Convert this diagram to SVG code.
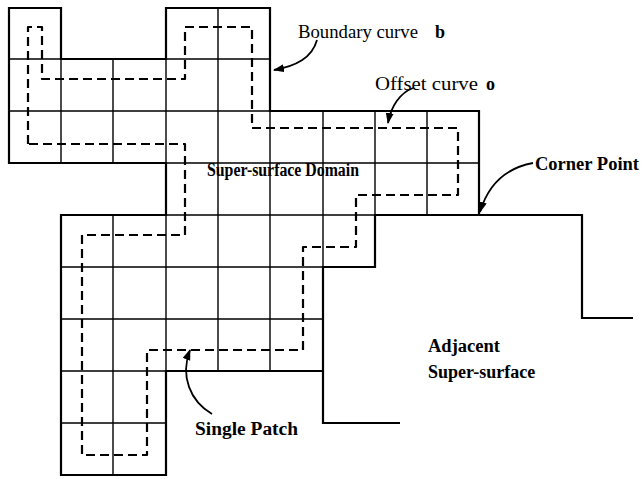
<svg xmlns="http://www.w3.org/2000/svg" width="642" height="479" viewBox="0 0 642 479">
<style>
.cell{fill:none;stroke:#000;stroke-width:1.4}
.outline{fill:none;stroke:#000;stroke-width:2.2;stroke-linejoin:miter}
.offset{fill:none;stroke:#000;stroke-width:2.2;stroke-dasharray:9 5;stroke-linejoin:round}
.lead{fill:none;stroke:#000;stroke-width:1.8}
.lbl{font-family:"Liberation Serif","Times New Roman",serif;font-size:18px;font-weight:bold;fill:#000}
.reg{font-family:"Liberation Serif","Times New Roman",serif;font-size:18px;fill:#000}
</style>
<defs>
<marker id="ah" markerUnits="userSpaceOnUse" markerWidth="12" markerHeight="10" refX="10" refY="4" orient="auto">
<path d="M0,0 L11,4 L0,8 Z" fill="#000"/>
</marker>
</defs>
<rect width="642" height="479" fill="#fff"/>
<g id="domain">
<g id="grid">
<path class="cell" d="M9,59 H270 M9,111 H479 M166,163 H479 M61,215 H375 M61,267 H375 M61,319 H323 M61,371 H166 M61,423 H166
M61,8 V163 M113,59 V163 M166,8 V475 M218,8 V371 M270,111 V371 M323,111 V267 M375,111 V215 M427,111 V215 M113,215 V475"/>
</g>
<path id="boundary" class="outline" d="M9,8 H61 V59 H166 V8 H270 V111 H479 V215 H375 V267 H323 V371 H166 V475 H61 V215 H166 V163 H9 Z"/>
</g>
<g id="adjacent">
<path class="outline" d="M479,215 H582 V318 H633 M323,371 V423 H400"/>
</g>
<g id="offset-curve">
<path class="offset" d="M28,144 V27 H42 V79 H185 V27 H252 V128 H458 V195 H356 V247 H303 V350 H147 V455 H82 V235 H185 V144 Z"/>
</g>
<g id="connectors">
<path class="lead" d="M317,40 C312,58 296,66 274,70" marker-end="url(#ah)"/>
<path class="lead" d="M413,88 C400,93 391,106 388,123" marker-end="url(#ah)"/>
<path class="lead" d="M533,163 C506,168 488,185 480,212" marker-end="url(#ah)"/>
<path class="lead" d="M212,414 C190,401 180,376 190,350" marker-end="url(#ah)"/>
</g>
<g id="labels">
<text class="reg" x="298" y="38" textLength="120" lengthAdjust="spacingAndGlyphs">Boundary curve</text>
<text class="lbl" x="435" y="38">b</text>
<text class="reg" x="375" y="90" textLength="103" lengthAdjust="spacingAndGlyphs">Offset curve</text>
<text class="lbl" x="486" y="90">o</text>
<text class="lbl" x="207" y="176" textLength="152" lengthAdjust="spacingAndGlyphs">Super-surface Domain</text>
<text class="lbl" x="535" y="170" textLength="104" lengthAdjust="spacingAndGlyphs">Corner Point</text>
<text class="lbl" x="428" y="352" textLength="72" lengthAdjust="spacingAndGlyphs">Adjacent</text>
<text class="lbl" x="428" y="378">Super-surface</text>
<text class="lbl" x="195" y="435" textLength="103" lengthAdjust="spacingAndGlyphs">Single Patch</text>
</g>
</svg>
